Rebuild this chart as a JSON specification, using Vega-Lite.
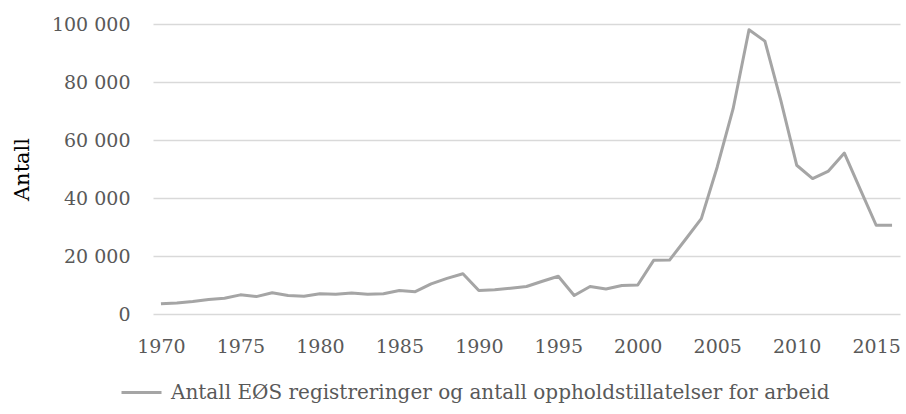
{
  "$schema": "https://vega.github.io/schema/vega-lite/v6.json",
  "width": 747,
  "height": 290,
  "autosize": "none",
  "padding": {"left": 153, "top": 24, "right": 6, "bottom": 100},
  "background": "white",
  "config": {
    "view": {"stroke": null},
    "font": "DejaVu Serif"
  },
  "data": {
    "values": [
      {"year": 1970, "value": 3500, "series": "Antall EØS registreringer og antall oppholdstillatelser for arbeid"},
      {"year": 1971, "value": 3800, "series": "Antall EØS registreringer og antall oppholdstillatelser for arbeid"},
      {"year": 1972, "value": 4300, "series": "Antall EØS registreringer og antall oppholdstillatelser for arbeid"},
      {"year": 1973, "value": 5000, "series": "Antall EØS registreringer og antall oppholdstillatelser for arbeid"},
      {"year": 1974, "value": 5400, "series": "Antall EØS registreringer og antall oppholdstillatelser for arbeid"},
      {"year": 1975, "value": 6600, "series": "Antall EØS registreringer og antall oppholdstillatelser for arbeid"},
      {"year": 1976, "value": 6000, "series": "Antall EØS registreringer og antall oppholdstillatelser for arbeid"},
      {"year": 1977, "value": 7300, "series": "Antall EØS registreringer og antall oppholdstillatelser for arbeid"},
      {"year": 1978, "value": 6400, "series": "Antall EØS registreringer og antall oppholdstillatelser for arbeid"},
      {"year": 1979, "value": 6100, "series": "Antall EØS registreringer og antall oppholdstillatelser for arbeid"},
      {"year": 1980, "value": 7000, "series": "Antall EØS registreringer og antall oppholdstillatelser for arbeid"},
      {"year": 1981, "value": 6800, "series": "Antall EØS registreringer og antall oppholdstillatelser for arbeid"},
      {"year": 1982, "value": 7200, "series": "Antall EØS registreringer og antall oppholdstillatelser for arbeid"},
      {"year": 1983, "value": 6800, "series": "Antall EØS registreringer og antall oppholdstillatelser for arbeid"},
      {"year": 1984, "value": 7000, "series": "Antall EØS registreringer og antall oppholdstillatelser for arbeid"},
      {"year": 1985, "value": 8100, "series": "Antall EØS registreringer og antall oppholdstillatelser for arbeid"},
      {"year": 1986, "value": 7700, "series": "Antall EØS registreringer og antall oppholdstillatelser for arbeid"},
      {"year": 1987, "value": 10400, "series": "Antall EØS registreringer og antall oppholdstillatelser for arbeid"},
      {"year": 1988, "value": 12300, "series": "Antall EØS registreringer og antall oppholdstillatelser for arbeid"},
      {"year": 1989, "value": 13900, "series": "Antall EØS registreringer og antall oppholdstillatelser for arbeid"},
      {"year": 1990, "value": 8100, "series": "Antall EØS registreringer og antall oppholdstillatelser for arbeid"},
      {"year": 1991, "value": 8400, "series": "Antall EØS registreringer og antall oppholdstillatelser for arbeid"},
      {"year": 1992, "value": 8900, "series": "Antall EØS registreringer og antall oppholdstillatelser for arbeid"},
      {"year": 1993, "value": 9500, "series": "Antall EØS registreringer og antall oppholdstillatelser for arbeid"},
      {"year": 1994, "value": 11300, "series": "Antall EØS registreringer og antall oppholdstillatelser for arbeid"},
      {"year": 1995, "value": 13000, "series": "Antall EØS registreringer og antall oppholdstillatelser for arbeid"},
      {"year": 1996, "value": 6400, "series": "Antall EØS registreringer og antall oppholdstillatelser for arbeid"},
      {"year": 1997, "value": 9500, "series": "Antall EØS registreringer og antall oppholdstillatelser for arbeid"},
      {"year": 1998, "value": 8600, "series": "Antall EØS registreringer og antall oppholdstillatelser for arbeid"},
      {"year": 1999, "value": 9800, "series": "Antall EØS registreringer og antall oppholdstillatelser for arbeid"},
      {"year": 2000, "value": 10000, "series": "Antall EØS registreringer og antall oppholdstillatelser for arbeid"},
      {"year": 2001, "value": 18500, "series": "Antall EØS registreringer og antall oppholdstillatelser for arbeid"},
      {"year": 2002, "value": 18600, "series": "Antall EØS registreringer og antall oppholdstillatelser for arbeid"},
      {"year": 2003, "value": 25700, "series": "Antall EØS registreringer og antall oppholdstillatelser for arbeid"},
      {"year": 2004, "value": 32900, "series": "Antall EØS registreringer og antall oppholdstillatelser for arbeid"},
      {"year": 2005, "value": 50700, "series": "Antall EØS registreringer og antall oppholdstillatelser for arbeid"},
      {"year": 2006, "value": 70800, "series": "Antall EØS registreringer og antall oppholdstillatelser for arbeid"},
      {"year": 2007, "value": 98000, "series": "Antall EØS registreringer og antall oppholdstillatelser for arbeid"},
      {"year": 2008, "value": 94100, "series": "Antall EØS registreringer og antall oppholdstillatelser for arbeid"},
      {"year": 2009, "value": 73700, "series": "Antall EØS registreringer og antall oppholdstillatelser for arbeid"},
      {"year": 2010, "value": 51300, "series": "Antall EØS registreringer og antall oppholdstillatelser for arbeid"},
      {"year": 2011, "value": 46700, "series": "Antall EØS registreringer og antall oppholdstillatelser for arbeid"},
      {"year": 2012, "value": 49300, "series": "Antall EØS registreringer og antall oppholdstillatelser for arbeid"},
      {"year": 2013, "value": 55500, "series": "Antall EØS registreringer og antall oppholdstillatelser for arbeid"},
      {"year": 2014, "value": 43000, "series": "Antall EØS registreringer og antall oppholdstillatelser for arbeid"},
      {"year": 2015, "value": 30600, "series": "Antall EØS registreringer og antall oppholdstillatelser for arbeid"},
      {"year": 2016, "value": 30600, "series": "Antall EØS registreringer og antall oppholdstillatelser for arbeid"}
    ]
  },
  "mark": {"type": "line", "strokeWidth": 3, "strokeJoin": "round"},
  "encoding": {
    "x": {
      "field": "year",
      "type": "quantitative",
      "scale": {"domain": [1969.5, 2016.5], "nice": false, "zero": false},
      "axis": {
        "title": null,
        "values": [1970, 1975, 1980, 1985, 1990, 1995, 2000, 2005, 2010, 2015],
        "format": "d",
        "grid": false,
        "domain": false,
        "ticks": false,
        "labelPadding": 23,
        "labelFontSize": 19,
        "labelColor": "#595959",
        "labelFont": "DejaVu Serif"
      }
    },
    "y": {
      "field": "value",
      "type": "quantitative",
      "scale": {"domain": [0, 100000], "nice": false},
      "axis": {
        "title": "Antall",
        "titleFontSize": 21,
        "titleFontWeight": "normal",
        "titleColor": "#000000",
        "titleFont": "DejaVu Serif",
        "titlePadding": 19,
        "values": [0, 20000, 40000, 60000, 80000, 100000],
        "labelExpr": "replace(format(datum.value, ','), ',', ' ')",
        "grid": true,
        "gridColor": "#d9d9d9",
        "gridWidth": 1.5,
        "domain": false,
        "ticks": false,
        "labelPadding": 23,
        "labelFontSize": 19,
        "labelColor": "#595959",
        "labelFont": "DejaVu Serif"
      }
    },
    "color": {
      "field": "series",
      "type": "nominal",
      "scale": {"range": ["#a5a5a5"]},
      "legend": {
        "title": null,
        "orient": "none",
        "legendX": -33,
        "legendY": 347,
        "symbolType": "stroke",
        "symbolSize": 1600,
        "symbolStrokeWidth": 3,
        "labelFontSize": 20,
        "labelColor": "#595959",
        "labelFont": "DejaVu Serif",
        "labelLimit": 900,
        "labelOffset": 8
      }
    }
  }
}
